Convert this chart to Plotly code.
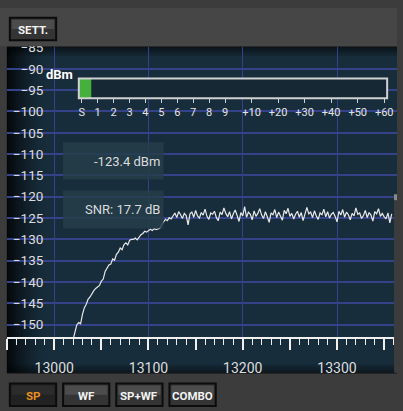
import plotly.graph_objects as go

W, H = 403, 411

# ---- spectrum data -------------------------------------------------------
FREQ_START_KHZ = 13020
BIN_KHZ = 2
SPECTRUM_DBM = [
    -153.5, -151.5, -150.0, -149.5, -149.8, -147.5, -146.0, -145.2, -144.0, -143.5,
    -142.6, -142.0, -141.5, -141.2, -140.8, -139.8, -139.3, -137.5, -136.8, -136.0,
    -135.8, -134.6, -134.9, -133.5, -133.0, -132.0, -132.4, -131.2, -130.8, -131.3,
    -130.2, -130.0, -130.0, -129.7, -130.1, -129.4, -128.9, -128.6, -128.1, -128.3,
    -127.9, -127.6, -127.9, -127.5, -127.7, -127.6, -127.4, -126.5, -125.8, -125.3,
    -125.6, -124.9, -125.2,
    -124.6, -123.8, -124.9, -123.5, -124.2, -125.1, -123.9, -124.4, -126.6, -124.0,
    -123.6, -124.8, -123.2, -124.5, -125.0, -123.7, -124.3, -122.9, -124.6, -125.3,
    -123.8, -124.1, -123.4, -124.9, -125.6, -123.6, -124.2, -122.6, -123.9, -124.7,
    -123.5, -125.2, -124.0, -123.1, -124.4, -125.8, -123.7, -124.5, -122.3, -124.8,
    -123.6, -124.1, -125.4, -123.3, -124.6, -123.9, -122.8, -124.3, -125.1, -123.5,
    -124.7, -126.0, -123.8, -124.2, -123.0, -124.9, -123.6, -124.4, -125.5, -123.2,
    -124.0, -122.7, -124.6, -123.9, -125.2, -124.1, -123.4, -124.8, -123.7, -125.6,
    -124.3, -122.5, -124.0, -123.6, -124.9, -123.3, -124.5, -125.3, -123.8, -124.2,
    -122.9, -124.7, -123.5, -125.0, -124.1, -123.7, -124.6, -125.9, -123.4, -124.3,
    -123.0, -124.8, -123.6, -124.2, -125.4, -123.9, -124.5, -122.6, -124.1, -123.8,
    -125.1, -124.4, -123.2, -124.9, -123.7, -124.3, -125.7, -123.5, -124.0, -122.8,
    -124.6, -123.9, -124.7, -125.2, -123.8, -126.1, -124.0,
]
FREQS_KHZ = [FREQ_START_KHZ + BIN_KHZ * i for i in range(len(SPECTRUM_DBM))]

X_RANGE = [12949.8, 13363.6]
Y_RANGE = [-152.99, -84.94]
Y_TICKS = list(range(-150, -84, 5))
X_LABEL_TICKS = [13000, 13100, 13200, 13300]
X_MID_TICKS = [12950, 13000, 13050, 13100, 13150, 13200, 13250, 13300, 13350]

# ---- readouts / S-meter ---------------------------------------------------
SIGNAL_DBM = -123.4
SNR_DB = 17.7
METER_RANGE = [-128.1, -11.9]
S_LABELS = ["S", "1", "2", "3", "4", "5", "6", "7", "8", "9",
            "+10", "+20", "+30", "+40", "+50", "+60"]
S_LEVELS_DBM = [-127, -121, -115, -109, -103, -97, -91, -85, -79, -73,
                -63, -53, -43, -33, -23, -13]

BUTTONS = ["SP", "WF", "SP+WF", "COMBO"]


def px(x):
    return x / W


def py(y):
    return 1 - y / H


GRID = "#34428a"
PANEL = "#182d3b"
LABEL = "#dcdcdc"
FONT = "Roboto"

fig = go.Figure()

fig.add_trace(go.Scatter(
    x=FREQS_KHZ, y=SPECTRUM_DBM, mode="lines",
    line=dict(color="#e8e8e8", width=1.2), hoverinfo="skip", showlegend=False,
))
# carrier for the 100 kHz grid axis
fig.add_trace(go.Scatter(x=[], y=[], xaxis="x2", yaxis="y", showlegend=False))

# S-meter track and level bar
fig.add_trace(go.Bar(
    y=[0], x=[METER_RANGE[1] - METER_RANGE[0]], base=[METER_RANGE[0]],
    orientation="h", width=1, marker=dict(color="#152834", line_width=0),
    xaxis="x3", yaxis="y3", showlegend=False, hoverinfo="skip",
))
fig.add_trace(go.Bar(
    y=[0], x=[SIGNAL_DBM - METER_RANGE[0]], base=[METER_RANGE[0]],
    orientation="h", width=1, marker=dict(color="#45b03c", line_width=0),
    xaxis="x3", yaxis="y3", showlegend=False, hoverinfo="skip",
))

shapes = []
# panel background
shapes.append(dict(type="rect", xref="paper", yref="paper", layer="below",
                   x0=px(7), x1=px(403), y0=py(372), y1=py(40),
                   fillcolor=PANEL, line_width=0))
# darker left edge of the panel
for i in range(20):
    shapes.append(dict(type="rect", xref="paper", yref="paper", layer="below",
                       x0=px(7 + 2 * i), x1=px(9 + 2 * i), y0=py(372), y1=py(40),
                       fillcolor="black", opacity=0.85 * (1 - i / 20) ** 1.6,
                       line_width=0))
# darker top and bottom edges
for i in range(5):
    shapes.append(dict(type="rect", xref="paper", yref="paper", layer="below",
                       x0=px(7), x1=px(403), y0=py(41 + 2 * i), y1=py(39 + 2 * i),
                       fillcolor="black", opacity=0.6 * (1 - i / 5), line_width=0))
    shapes.append(dict(type="rect", xref="paper", yref="paper", layer="below",
                       x0=px(7), x1=px(403), y0=py(373 - 2 * i), y1=py(371 - 2 * i),
                       fillcolor="black", opacity=0.5 * (1 - i / 5), line_width=0))

# S-meter frame
shapes.append(dict(type="rect", xref="paper", yref="paper", layer="above",
                   x0=px(80), x1=px(393), y0=py(92), y1=py(72),
                   line=dict(color="#cfd2d2", width=2)))

# readout boxes
for y0, y1 in [(137, 175), (186, 225)]:
    shapes.append(dict(type="rect", xref="paper", yref="paper", layer="above",
                       x0=px(64), x1=px(166), y0=py(y1), y1=py(y0),
                       fillcolor="rgba(36,62,74,0.85)", line_width=0))

# top toolbar and right-hand slider edge
shapes.append(dict(type="rect", xref="paper", yref="paper", layer="above",
                   x0=0, x1=1, y0=py(39), y1=1, fillcolor="#464646", line_width=0))
shapes.append(dict(type="rect", xref="paper", yref="paper", layer="above",
                   x0=px(400), x1=1, y0=py(372), y1=py(190), fillcolor="#3c3c3c",
                   line_width=0))
shapes.append(dict(type="rect", xref="paper", yref="paper", layer="above",
                   x0=px(400), x1=1, y0=py(196), y1=py(190), fillcolor="#8a8a8a",
                   line_width=0))

annotations = []


def button(x0, y0, x1, y1, text, color, pressed=False):
    top = "#2c2c2c" if pressed else "#4c4c4c"
    bottom = "#222222" if pressed else "#343434"
    shapes.append(dict(type="rect", xref="paper", yref="paper", layer="above",
                       x0=px(x0), x1=px(x1), y0=py(y1), y1=py(y0),
                       fillcolor=bottom, line=dict(color="#0c0c0c", width=2)))
    shapes.append(dict(type="rect", xref="paper", yref="paper", layer="above",
                       x0=px(x0 + 2), x1=px(x1 - 2), y0=py((y0 + y1) / 2), y1=py(y0 + 2),
                       fillcolor=top, line_width=0))
    annotations.append(dict(text=f"<b>{text}</b>", xref="paper", yref="paper",
                            x=px((x0 + x1) / 2), y=py((y0 + y1) / 2 + 1),
                            showarrow=False, xanchor="center", yanchor="middle",
                            font=dict(family=FONT, size=11.5, color=color)))


button(10, 10, 57, 33, "SETT.", "#f2f2f2")
for (x0, x1), name in zip([(10, 57), (64, 111), (118, 165), (172, 219)], BUTTONS):
    button(x0, 383, x1, 406, name, "#e8901c" if name == "SP" else "#f2f2f2",
           pressed=(name == "SP"))

annotations.append(dict(text=f"{SIGNAL_DBM:.1f} dBm", xref="paper", yref="paper",
                        x=px(164), y=py(157), showarrow=False, xanchor="right",
                        yanchor="middle", font=dict(family=FONT, size=13, color=LABEL)))
annotations.append(dict(text=f"SNR: {SNR_DB:.1f} dB", xref="paper", yref="paper",
                        x=px(164), y=py(206), showarrow=False, xanchor="right",
                        yanchor="middle", font=dict(family=FONT, size=13, color=LABEL)))
annotations.append(dict(text="<b>dBm</b>", xref="paper", yref="paper",
                        x=px(45), y=py(68), showarrow=False, xanchor="left",
                        yanchor="middle", font=dict(family=FONT, size=13, color="white")))

fig.update_layout(
    width=W, height=H, margin=dict(l=0, r=0, t=0, b=0),
    paper_bgcolor="#3c3c3c", plot_bgcolor="rgba(0,0,0,0)",
    showlegend=False, barmode="overlay",
    shapes=shapes, annotations=annotations,
    xaxis=dict(
        domain=[px(7), 1], range=X_RANGE, anchor="y",
        showgrid=False, zeroline=False,
        showline=True, linecolor="#f0f0f0", linewidth=2,
        tickmode="array", tickvals=X_MID_TICKS,
        ticktext=[str(v) if v in X_LABEL_TICKS else "" for v in X_MID_TICKS],
        ticks="outside", ticklen=11, tickwidth=1.5, tickcolor="#f0f0f0",
        ticklabelstandoff=6,
        tickfont=dict(family=FONT, size=14, color=LABEL),
        minor=dict(dtick=10, tick0=13000, ticks="outside", ticklen=6,
                   tickwidth=1.2, tickcolor="#f0f0f0", showgrid=False),
    ),
    xaxis2=dict(
        overlaying="x", matches="x", anchor="y", range=X_RANGE,
        tickmode="array", tickvals=X_LABEL_TICKS, showticklabels=False,
        ticks="", showgrid=True, gridcolor=GRID, gridwidth=1.2,
        zeroline=False, showline=False,
    ),
    yaxis=dict(
        domain=[py(336), py(40)], range=Y_RANGE, anchor="free", position=px(44),
        tickmode="array", tickvals=Y_TICKS, ticks="",
        showgrid=True, gridcolor=GRID, gridwidth=1.6,
        zeroline=False, showline=False,
        tickfont=dict(family=FONT, size=13.5, color=LABEL),
    ),
    xaxis3=dict(
        domain=[px(80), px(393)], range=METER_RANGE, anchor="y3",
        tickmode="array", tickvals=S_LEVELS_DBM, ticktext=S_LABELS,
        ticks="outside", ticklen=4, tickwidth=1.2, tickcolor="#cfd2d2",
        showgrid=False, zeroline=False, showline=False,
        tickfont=dict(family=FONT, size=11, color="#e4e4e4"),
    ),
    yaxis3=dict(
        domain=[py(92), py(72)], range=[-0.5, 0.5], anchor="x3",
        visible=False, showgrid=False, zeroline=False, fixedrange=True,
    ),
)

fig.write_html("out.html")
